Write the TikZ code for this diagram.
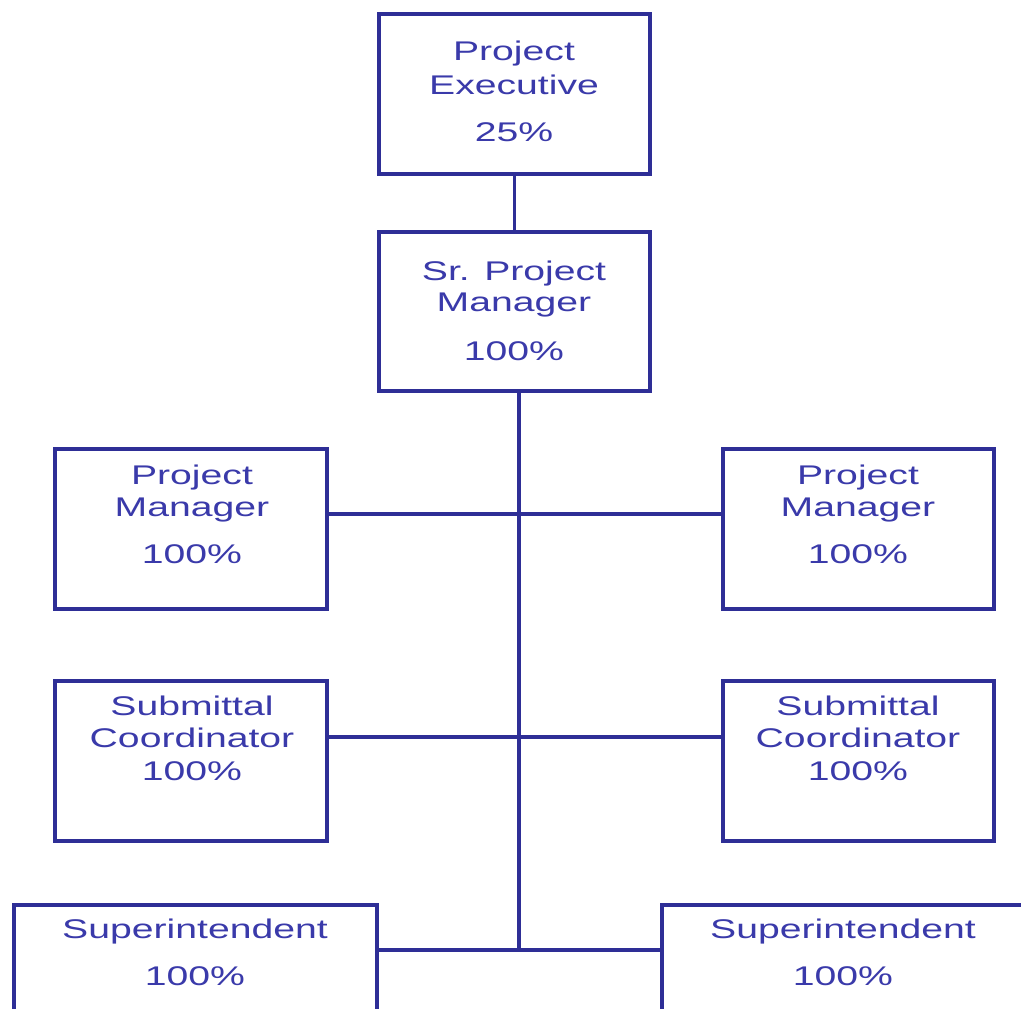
\documentclass[tikz,border=0pt]{standalone}
\usepackage{fontspec}
\setmainfont{Liberation Sans}[FakeStretch=1.45]
\definecolor{linec}{RGB}{46,46,150}
\definecolor{textc}{RGB}{58,58,170}
\begin{document}
\begin{tikzpicture}[x=1pt,y=-1pt,
  box/.style={draw=linec,line width=4pt,rectangle,inner sep=0pt,minimum width=#1},
  box/.default=271pt,
  conn/.style={draw=linec,line width=3.5pt},
  lbl/.style={text=textc,inner sep=0pt,anchor=base,font=\fontsize{27}{33}\selectfont}]
\clip (0,0) rectangle (1021,1009);
\fill[white] (0,0) rectangle (1021,1009);
% boxes
\node[box,minimum height=160pt] (pe) at (514.5,94) {};
\node[box,minimum height=159pt] (spm) at (514.5,311.5) {};
\node[box=272pt,minimum height=160pt] (pmL) at (191,529) {};
\node[box,minimum height=160pt] (pmR) at (858.5,529) {};
\node[box=272pt,minimum height=160pt] (scL) at (191,761) {};
\node[box,minimum height=160pt] (scR) at (858.5,761) {};
\node[box=363pt,minimum height=194pt] (suL) at (195.5,1002) {};
\node[box=440pt,minimum height=194pt] (suR) at (882,1002) {};
% texts
\node[lbl] (t1) at (514,60) {Project};
\node[lbl] (t2) at (514,94) {Executive};
\node[lbl] (t3) at (514,141) {25\%};
\node[lbl] (t4) at (514,280) {Sr. Project};
\node[lbl] (t5) at (514,311) {Manager};
\node[lbl] (t6) at (514,360) {100\%};
\node[lbl] (t7) at (192,484) {Project};
\node[lbl] (t8) at (192,516) {Manager};
\node[lbl] (t9) at (192,563) {100\%};
\node[lbl] (t10) at (858,484) {Project};
\node[lbl] (t11) at (858,516) {Manager};
\node[lbl] (t12) at (858,563) {100\%};
\node[lbl] (t13) at (192,715) {Submittal};
\node[lbl] (t14) at (192,747) {Coordinator};
\node[lbl] (t15) at (192,780) {100\%};
\node[lbl] (t16) at (858,715) {Submittal};
\node[lbl] (t17) at (858,747) {Coordinator};
\node[lbl] (t18) at (858,780) {100\%};
\node[lbl] (t19) at (195,938) {Superintendent};
\node[lbl] (t20) at (195,985) {100\%};
\node[lbl] (t21) at (843,938) {Superintendent};
\node[lbl] (t22) at (843,985) {100\%};
% connectors
\coordinate (trunkbot) at (519,950);
\draw[conn] (pe.south) -- (spm.north);
\draw[conn] (spm.south -| trunkbot) -- (trunkbot);
\draw[conn] ([yshift=15pt]pmL.east) -- ([yshift=15pt]pmR.west);
\draw[conn] ([yshift=24pt]scL.east) -- ([yshift=24pt]scR.west);
\draw[conn] ([yshift=52pt]suL.east) -- ([yshift=52pt]suR.west);
\end{tikzpicture}
\end{document}
